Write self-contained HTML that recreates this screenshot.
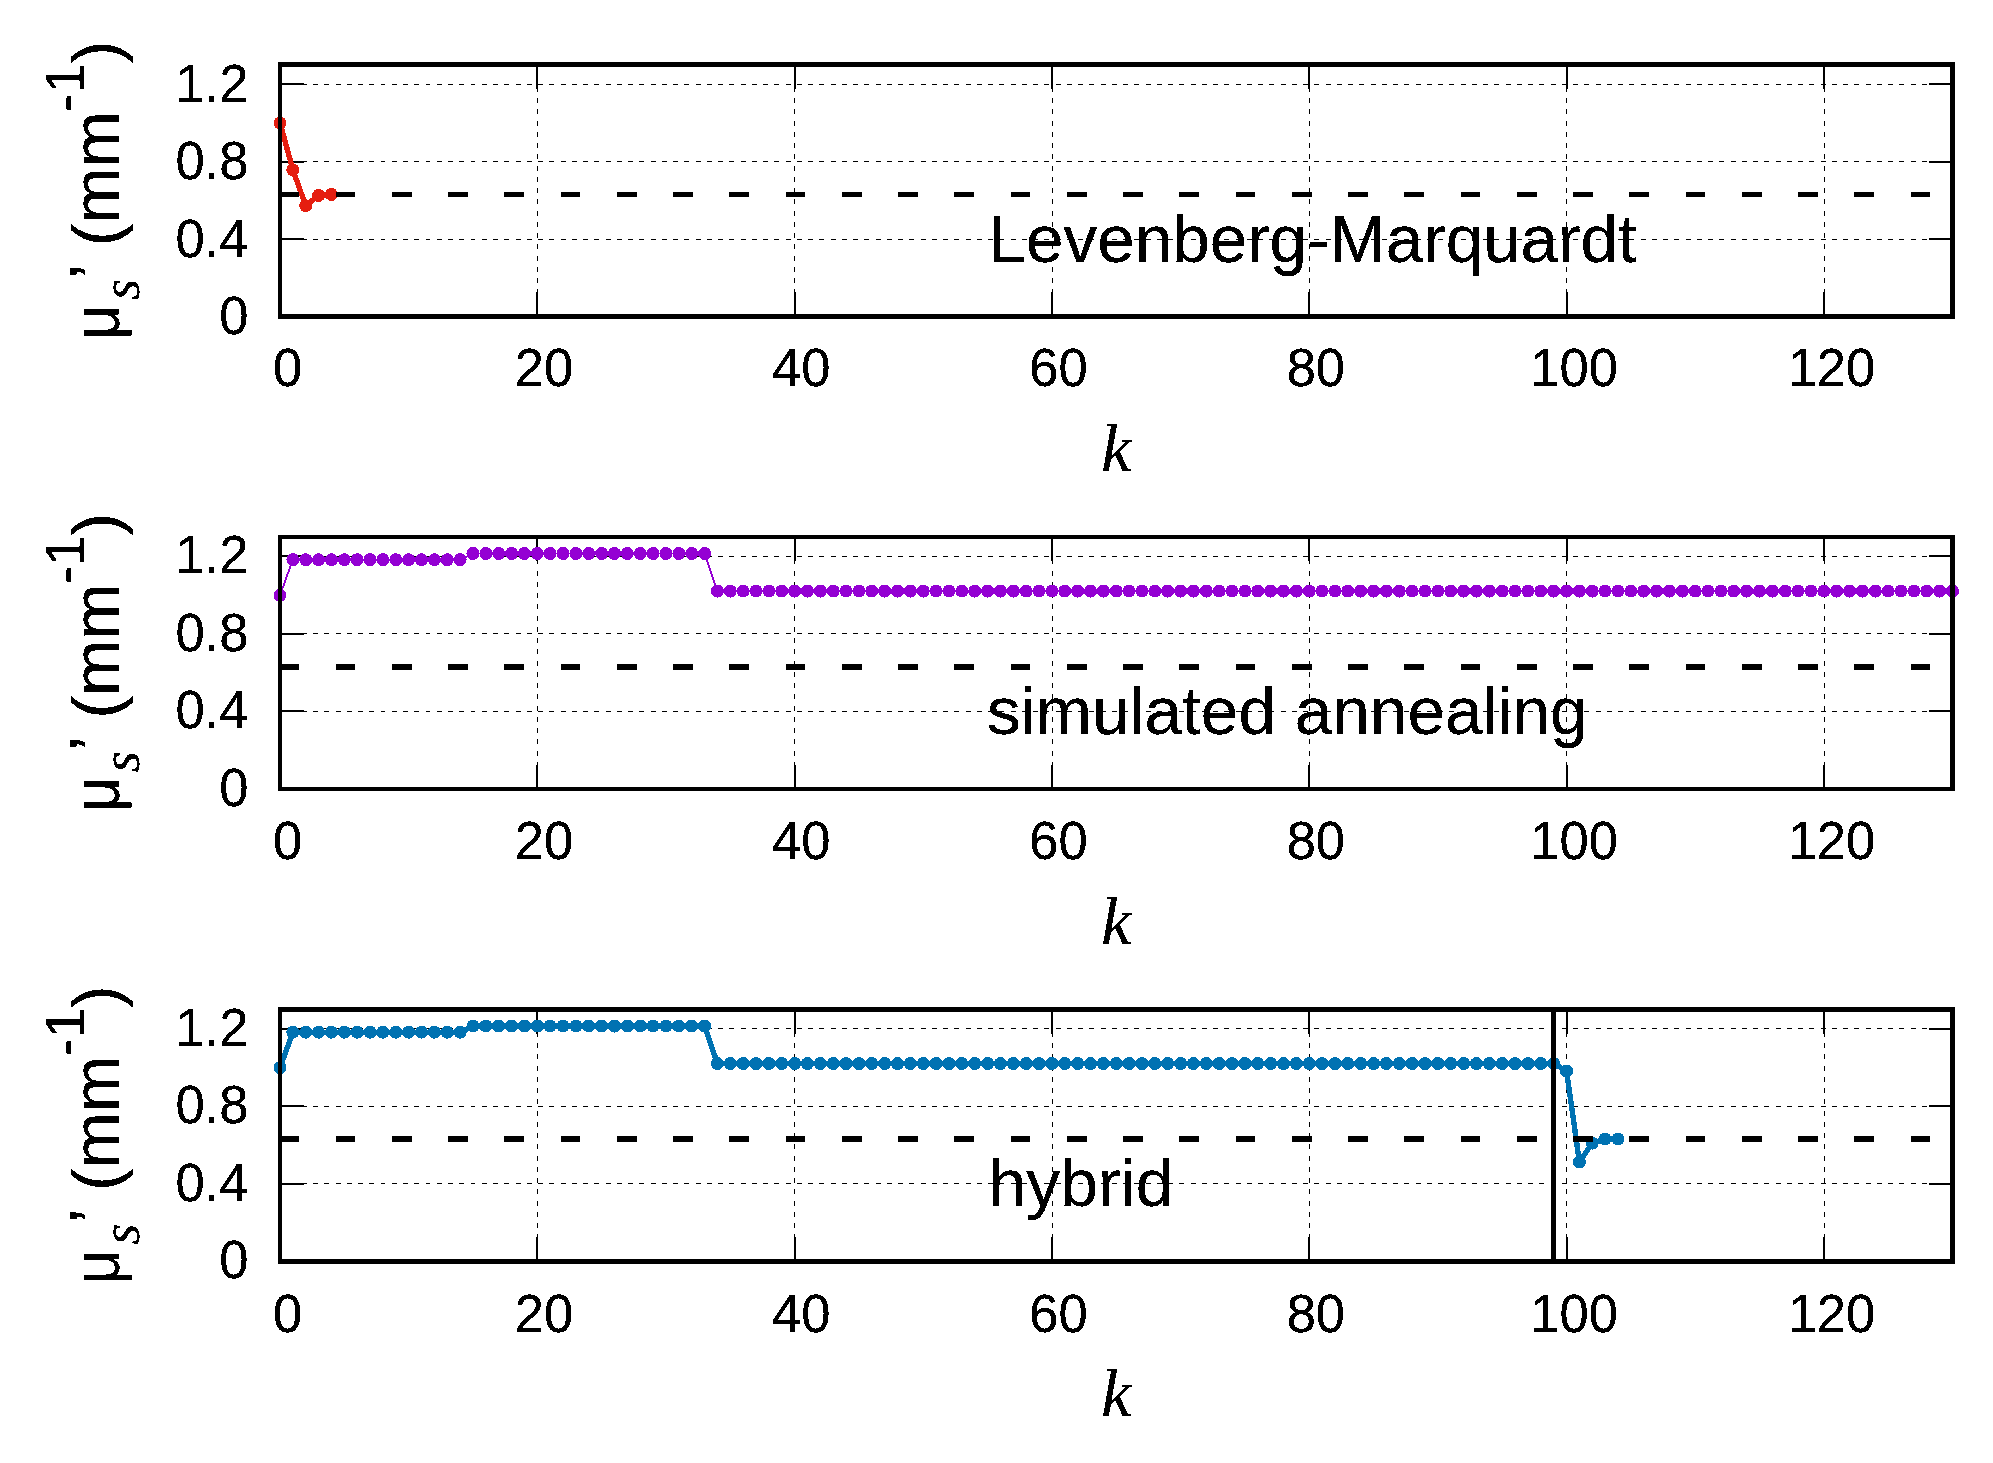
<!DOCTYPE html>
<html lang="en"><head><meta charset="utf-8"><title>Convergence of the reduced scattering coefficient</title>
<style>
html,body{margin:0;padding:0;background:#fff;}
body{width:1993px;height:1463px;overflow:hidden;}
svg{display:block;}
.tk{font-family:'Liberation Sans', Arial, Helvetica, sans-serif;font-size:52.5px;fill:#000;}
.lb{font-family:'Liberation Sans', Arial, Helvetica, sans-serif;font-size:67.5px;fill:#000;}
.sm{font-family:'Liberation Sans', Arial, Helvetica, sans-serif;font-size:54px;fill:#000;}
.it{font-family:'Liberation Serif', 'Times New Roman', Times, serif;font-style:italic;fill:#000;}
</style></head><body>
<svg width="1993" height="1463" viewBox="0 0 1993 1463" shape-rendering="crispEdges">
<defs><filter id="ink" filterUnits="userSpaceOnUse" x="0" y="0" width="1993" height="1463" color-interpolation-filters="sRGB"><feComponentTransfer><feFuncA type="discrete" tableValues="0 0 1 1 1 1"/></feComponentTransfer></filter></defs>
<rect x="0" y="0" width="1993" height="1463" fill="#fff"/>
<g id="panel1">
<g stroke="#000" stroke-width="1" stroke-dasharray="4.95 6.3" fill="none">
<path d="M279.3 239.5H1952.5"/>
<path d="M279.3 161.5H1952.5"/>
<path d="M279.3 84.5H1952.5"/>
<path d="M537.5 316.9V62"/>
<path d="M794.81 316.9V62"/>
<path d="M1052.11 316.9V62"/>
<path d="M1309.42 316.9V62"/>
<path d="M1566.73 316.9V62"/>
<path d="M1824.04 316.9V62"/>
</g>
<g fill="#000">
<rect x="282" y="238" width="22" height="2"/>
<rect x="1929" y="238" width="21" height="2"/>
<rect x="282" y="161" width="22" height="2"/>
<rect x="1929" y="161" width="21" height="2"/>
<rect x="282" y="83" width="22" height="2"/>
<rect x="1929" y="83" width="21" height="2"/>
<rect x="536" y="292" width="2" height="22"/>
<rect x="536" y="67" width="2" height="22"/>
<rect x="794" y="292" width="2" height="22"/>
<rect x="794" y="67" width="2" height="22"/>
<rect x="1051" y="292" width="2" height="22"/>
<rect x="1051" y="67" width="2" height="22"/>
<rect x="1308" y="292" width="2" height="22"/>
<rect x="1308" y="67" width="2" height="22"/>
<rect x="1566" y="292" width="2" height="22"/>
<rect x="1566" y="67" width="2" height="22"/>
<rect x="1823" y="292" width="2" height="22"/>
<rect x="1823" y="67" width="2" height="22"/>
</g>
<polyline fill="none" stroke="#e51e10" stroke-width="5.4" stroke-linejoin="round" points="280,122.94 292.87,169.83 305.73,205.68 318.6,195.41 331.46,194.44"/>
<g fill="#e51e10">
<circle cx="280" cy="122.94" r="6.5"/><circle cx="292.87" cy="169.83" r="6.5"/><circle cx="305.73" cy="205.68" r="6.5"/><circle cx="318.6" cy="195.41" r="6.5"/><circle cx="331.46" cy="194.44" r="6.5"/>
</g>
<path d="M279.3 194.5H1952.5" stroke="#000" stroke-width="5" stroke-dasharray="19.7 36.55" fill="none"/>
<g fill="#000">
<rect x="278" y="62" width="1677" height="5"/>
<rect x="278" y="314" width="1677" height="5"/>
<rect x="278" y="62" width="4" height="257"/>
<rect x="1950" y="62" width="5" height="257"/>
</g>
<g filter="url(#ink)">
<text class="tk" transform="translate(248.4 334) scale(1 1.02)" text-anchor="end">0</text>
<text class="tk" transform="translate(248.4 256.5) scale(1 1.02)" text-anchor="end">0.4</text>
<text class="tk" transform="translate(248.4 179) scale(1 1.02)" text-anchor="end">0.8</text>
<text class="tk" transform="translate(248.4 101.5) scale(1 1.02)" text-anchor="end">1.2</text>
<text class="tk" transform="translate(287.6 385.9) scale(1 1.02)" text-anchor="middle">0</text>
<text class="tk" transform="translate(543.91 385.9) scale(1 1.02)" text-anchor="middle">20</text>
<text class="tk" transform="translate(801.22 385.9) scale(1 1.02)" text-anchor="middle">40</text>
<text class="tk" transform="translate(1058.52 385.9) scale(1 1.02)" text-anchor="middle">60</text>
<text class="tk" transform="translate(1315.83 385.9) scale(1 1.02)" text-anchor="middle">80</text>
<text class="tk" transform="translate(1574.14 385.9) scale(1 1.02)" text-anchor="middle">100</text>
<text class="tk" transform="translate(1831.45 385.9) scale(1 1.02)" text-anchor="middle">120</text>
<text class="it" font-size="67.5" x="1116.25" y="470.5" text-anchor="middle">k</text>
<text class="lb" x="988.5" y="261.5" textLength="648.3" lengthAdjust="spacingAndGlyphs">Levenberg-Marquardt</text>
<g transform="translate(119 190.3) rotate(-90)">
<text class="lb" transform="translate(-149.15 0) scale(0.89 1)">μ</text>
<text class="it" font-size="54" x="-109.7" y="20.3">s</text>
<text class="lb" x="-88.5" y="-3.2">’</text>
<text class="lb" x="-55.9" y="0">(mm</text>
<text class="sm" transform="translate(78.3 -35) scale(1 1.045)">-</text>
<text class="sm" transform="translate(97.1 -35) scale(1 1.045)">1</text>
<text class="lb" x="127.1" y="0">)</text>
</g>
</g>
</g>
<g id="panel2">
<g stroke="#000" stroke-width="1" stroke-dasharray="4.95 6.3" fill="none">
<path d="M279.3 711.5H1952.5"/>
<path d="M279.3 633.5H1952.5"/>
<path d="M279.3 556.5H1952.5"/>
<path d="M537.5 789.4V535"/>
<path d="M794.81 789.4V535"/>
<path d="M1052.11 789.4V535"/>
<path d="M1309.42 789.4V535"/>
<path d="M1566.73 789.4V535"/>
<path d="M1824.04 789.4V535"/>
</g>
<g fill="#000">
<rect x="282" y="710" width="22" height="2"/>
<rect x="1929" y="710" width="21" height="2"/>
<rect x="282" y="633" width="22" height="2"/>
<rect x="1929" y="633" width="21" height="2"/>
<rect x="282" y="555" width="22" height="2"/>
<rect x="1929" y="555" width="21" height="2"/>
<rect x="536" y="765" width="2" height="22"/>
<rect x="536" y="539" width="2" height="22"/>
<rect x="794" y="765" width="2" height="22"/>
<rect x="794" y="539" width="2" height="22"/>
<rect x="1051" y="765" width="2" height="22"/>
<rect x="1051" y="539" width="2" height="22"/>
<rect x="1308" y="765" width="2" height="22"/>
<rect x="1308" y="539" width="2" height="22"/>
<rect x="1566" y="765" width="2" height="22"/>
<rect x="1566" y="539" width="2" height="22"/>
<rect x="1823" y="765" width="2" height="22"/>
<rect x="1823" y="539" width="2" height="22"/>
</g>
<polyline fill="none" stroke="#9400d3" stroke-width="1.9" stroke-linejoin="round" points="280,595.25 292.87,559.7 305.73,559.7 318.6,559.7 331.46,559.7 344.33,559.7 357.19,559.7 370.06,559.7 382.92,559.7 395.79,559.7 408.65,559.7 421.52,559.7 434.38,559.7 447.25,559.7 460.12,559.7 472.98,553.5 485.85,553.5 498.71,553.5 511.58,553.5 524.44,553.5 537.31,553.5 550.17,553.5 563.04,553.5 575.9,553.5 588.77,553.5 601.63,553.5 614.5,553.5 627.37,553.5 640.23,553.5 653.1,553.5 665.96,553.5 678.83,553.5 691.69,553.5 704.56,553.5 717.42,591.05 730.29,591.05 743.15,591.05 756.02,591.05 768.88,591.05 781.75,591.05 794.62,591.05 807.48,591.05 820.35,591.05 833.21,591.05 846.08,591.05 858.94,591.05 871.81,591.05 884.67,591.05 897.54,591.05 910.4,591.05 923.27,591.05 936.13,591.05 949,591.05 961.87,591.05 974.73,591.05 987.6,591.05 1000.46,591.05 1013.33,591.05 1026.19,591.05 1039.06,591.05 1051.92,591.05 1064.79,591.05 1077.65,591.05 1090.52,591.05 1103.38,591.05 1116.25,591.05 1129.12,591.05 1141.98,591.05 1154.85,591.05 1167.71,591.05 1180.58,591.05 1193.44,591.05 1206.31,591.05 1219.17,591.05 1232.04,591.05 1244.9,591.05 1257.77,591.05 1270.63,591.05 1283.5,591.05 1296.37,591.05 1309.23,591.05 1322.1,591.05 1334.96,591.05 1347.83,591.05 1360.69,591.05 1373.56,591.05 1386.42,591.05 1399.29,591.05 1412.15,591.05 1425.02,591.05 1437.88,591.05 1450.75,591.05 1463.62,591.05 1476.48,591.05 1489.35,591.05 1502.21,591.05 1515.08,591.05 1527.94,591.05 1540.81,591.05 1553.67,591.05 1566.54,591.05 1579.4,591.05 1592.27,591.05 1605.13,591.05 1618,591.05 1630.87,591.05 1643.73,591.05 1656.6,591.05 1669.46,591.05 1682.33,591.05 1695.19,591.05 1708.06,591.05 1720.92,591.05 1733.79,591.05 1746.65,591.05 1759.52,591.05 1772.38,591.05 1785.25,591.05 1798.12,591.05 1810.98,591.05 1823.85,591.05 1836.71,591.05 1849.58,591.05 1862.44,591.05 1875.31,591.05 1888.17,591.05 1901.04,591.05 1913.9,591.05 1926.77,591.05 1939.63,591.05 1952.5,591.05"/>
<g fill="#9400d3">
<circle cx="280" cy="595.25" r="6.5"/><circle cx="292.87" cy="559.7" r="6.5"/><circle cx="305.73" cy="559.7" r="6.5"/><circle cx="318.6" cy="559.7" r="6.5"/><circle cx="331.46" cy="559.7" r="6.5"/><circle cx="344.33" cy="559.7" r="6.5"/><circle cx="357.19" cy="559.7" r="6.5"/><circle cx="370.06" cy="559.7" r="6.5"/><circle cx="382.92" cy="559.7" r="6.5"/><circle cx="395.79" cy="559.7" r="6.5"/><circle cx="408.65" cy="559.7" r="6.5"/><circle cx="421.52" cy="559.7" r="6.5"/><circle cx="434.38" cy="559.7" r="6.5"/><circle cx="447.25" cy="559.7" r="6.5"/><circle cx="460.12" cy="559.7" r="6.5"/><circle cx="472.98" cy="553.5" r="6.5"/><circle cx="485.85" cy="553.5" r="6.5"/><circle cx="498.71" cy="553.5" r="6.5"/><circle cx="511.58" cy="553.5" r="6.5"/><circle cx="524.44" cy="553.5" r="6.5"/><circle cx="537.31" cy="553.5" r="6.5"/><circle cx="550.17" cy="553.5" r="6.5"/><circle cx="563.04" cy="553.5" r="6.5"/><circle cx="575.9" cy="553.5" r="6.5"/><circle cx="588.77" cy="553.5" r="6.5"/><circle cx="601.63" cy="553.5" r="6.5"/><circle cx="614.5" cy="553.5" r="6.5"/><circle cx="627.37" cy="553.5" r="6.5"/><circle cx="640.23" cy="553.5" r="6.5"/><circle cx="653.1" cy="553.5" r="6.5"/><circle cx="665.96" cy="553.5" r="6.5"/><circle cx="678.83" cy="553.5" r="6.5"/><circle cx="691.69" cy="553.5" r="6.5"/><circle cx="704.56" cy="553.5" r="6.5"/><circle cx="717.42" cy="591.05" r="6.5"/><circle cx="730.29" cy="591.05" r="6.5"/><circle cx="743.15" cy="591.05" r="6.5"/><circle cx="756.02" cy="591.05" r="6.5"/><circle cx="768.88" cy="591.05" r="6.5"/><circle cx="781.75" cy="591.05" r="6.5"/><circle cx="794.62" cy="591.05" r="6.5"/><circle cx="807.48" cy="591.05" r="6.5"/><circle cx="820.35" cy="591.05" r="6.5"/><circle cx="833.21" cy="591.05" r="6.5"/><circle cx="846.08" cy="591.05" r="6.5"/><circle cx="858.94" cy="591.05" r="6.5"/><circle cx="871.81" cy="591.05" r="6.5"/><circle cx="884.67" cy="591.05" r="6.5"/><circle cx="897.54" cy="591.05" r="6.5"/><circle cx="910.4" cy="591.05" r="6.5"/><circle cx="923.27" cy="591.05" r="6.5"/><circle cx="936.13" cy="591.05" r="6.5"/><circle cx="949" cy="591.05" r="6.5"/><circle cx="961.87" cy="591.05" r="6.5"/><circle cx="974.73" cy="591.05" r="6.5"/><circle cx="987.6" cy="591.05" r="6.5"/><circle cx="1000.46" cy="591.05" r="6.5"/><circle cx="1013.33" cy="591.05" r="6.5"/><circle cx="1026.19" cy="591.05" r="6.5"/><circle cx="1039.06" cy="591.05" r="6.5"/><circle cx="1051.92" cy="591.05" r="6.5"/><circle cx="1064.79" cy="591.05" r="6.5"/><circle cx="1077.65" cy="591.05" r="6.5"/><circle cx="1090.52" cy="591.05" r="6.5"/><circle cx="1103.38" cy="591.05" r="6.5"/><circle cx="1116.25" cy="591.05" r="6.5"/><circle cx="1129.12" cy="591.05" r="6.5"/><circle cx="1141.98" cy="591.05" r="6.5"/><circle cx="1154.85" cy="591.05" r="6.5"/><circle cx="1167.71" cy="591.05" r="6.5"/><circle cx="1180.58" cy="591.05" r="6.5"/><circle cx="1193.44" cy="591.05" r="6.5"/><circle cx="1206.31" cy="591.05" r="6.5"/><circle cx="1219.17" cy="591.05" r="6.5"/><circle cx="1232.04" cy="591.05" r="6.5"/><circle cx="1244.9" cy="591.05" r="6.5"/><circle cx="1257.77" cy="591.05" r="6.5"/><circle cx="1270.63" cy="591.05" r="6.5"/><circle cx="1283.5" cy="591.05" r="6.5"/><circle cx="1296.37" cy="591.05" r="6.5"/><circle cx="1309.23" cy="591.05" r="6.5"/><circle cx="1322.1" cy="591.05" r="6.5"/><circle cx="1334.96" cy="591.05" r="6.5"/><circle cx="1347.83" cy="591.05" r="6.5"/><circle cx="1360.69" cy="591.05" r="6.5"/><circle cx="1373.56" cy="591.05" r="6.5"/><circle cx="1386.42" cy="591.05" r="6.5"/><circle cx="1399.29" cy="591.05" r="6.5"/><circle cx="1412.15" cy="591.05" r="6.5"/><circle cx="1425.02" cy="591.05" r="6.5"/><circle cx="1437.88" cy="591.05" r="6.5"/><circle cx="1450.75" cy="591.05" r="6.5"/><circle cx="1463.62" cy="591.05" r="6.5"/><circle cx="1476.48" cy="591.05" r="6.5"/><circle cx="1489.35" cy="591.05" r="6.5"/><circle cx="1502.21" cy="591.05" r="6.5"/><circle cx="1515.08" cy="591.05" r="6.5"/><circle cx="1527.94" cy="591.05" r="6.5"/><circle cx="1540.81" cy="591.05" r="6.5"/><circle cx="1553.67" cy="591.05" r="6.5"/><circle cx="1566.54" cy="591.05" r="6.5"/><circle cx="1579.4" cy="591.05" r="6.5"/><circle cx="1592.27" cy="591.05" r="6.5"/><circle cx="1605.13" cy="591.05" r="6.5"/><circle cx="1618" cy="591.05" r="6.5"/><circle cx="1630.87" cy="591.05" r="6.5"/><circle cx="1643.73" cy="591.05" r="6.5"/><circle cx="1656.6" cy="591.05" r="6.5"/><circle cx="1669.46" cy="591.05" r="6.5"/><circle cx="1682.33" cy="591.05" r="6.5"/><circle cx="1695.19" cy="591.05" r="6.5"/><circle cx="1708.06" cy="591.05" r="6.5"/><circle cx="1720.92" cy="591.05" r="6.5"/><circle cx="1733.79" cy="591.05" r="6.5"/><circle cx="1746.65" cy="591.05" r="6.5"/><circle cx="1759.52" cy="591.05" r="6.5"/><circle cx="1772.38" cy="591.05" r="6.5"/><circle cx="1785.25" cy="591.05" r="6.5"/><circle cx="1798.12" cy="591.05" r="6.5"/><circle cx="1810.98" cy="591.05" r="6.5"/><circle cx="1823.85" cy="591.05" r="6.5"/><circle cx="1836.71" cy="591.05" r="6.5"/><circle cx="1849.58" cy="591.05" r="6.5"/><circle cx="1862.44" cy="591.05" r="6.5"/><circle cx="1875.31" cy="591.05" r="6.5"/><circle cx="1888.17" cy="591.05" r="6.5"/><circle cx="1901.04" cy="591.05" r="6.5"/><circle cx="1913.9" cy="591.05" r="6.5"/><circle cx="1926.77" cy="591.05" r="6.5"/><circle cx="1939.63" cy="591.05" r="6.5"/><circle cx="1952.5" cy="591.05" r="6.5"/>
</g>
<path d="M279.3 667H1952.5" stroke="#000" stroke-width="6" stroke-dasharray="19.7 36.55" fill="none"/>
<g fill="#000">
<rect x="278" y="535" width="1677" height="4"/>
<rect x="278" y="787" width="1677" height="4"/>
<rect x="278" y="535" width="4" height="256"/>
<rect x="1950" y="535" width="5" height="256"/>
</g>
<g filter="url(#ink)">
<text class="tk" transform="translate(248.4 805.8) scale(1 1.02)" text-anchor="end">0</text>
<text class="tk" transform="translate(248.4 728.3) scale(1 1.02)" text-anchor="end">0.4</text>
<text class="tk" transform="translate(248.4 650.8) scale(1 1.02)" text-anchor="end">0.8</text>
<text class="tk" transform="translate(248.4 573.3) scale(1 1.02)" text-anchor="end">1.2</text>
<text class="tk" transform="translate(287.6 858.9) scale(1 1.02)" text-anchor="middle">0</text>
<text class="tk" transform="translate(543.91 858.9) scale(1 1.02)" text-anchor="middle">20</text>
<text class="tk" transform="translate(801.22 858.9) scale(1 1.02)" text-anchor="middle">40</text>
<text class="tk" transform="translate(1058.52 858.9) scale(1 1.02)" text-anchor="middle">60</text>
<text class="tk" transform="translate(1315.83 858.9) scale(1 1.02)" text-anchor="middle">80</text>
<text class="tk" transform="translate(1574.14 858.9) scale(1 1.02)" text-anchor="middle">100</text>
<text class="tk" transform="translate(1831.45 858.9) scale(1 1.02)" text-anchor="middle">120</text>
<text class="it" font-size="67.5" x="1116.25" y="943.5" text-anchor="middle">k</text>
<text class="lb" x="987" y="733.8" textLength="600.6" lengthAdjust="spacingAndGlyphs">simulated annealing</text>
<g transform="translate(119 662.5) rotate(-90)">
<text class="lb" transform="translate(-149.15 0) scale(0.89 1)">μ</text>
<text class="it" font-size="54" x="-109.7" y="20.3">s</text>
<text class="lb" x="-88.5" y="-3.2">’</text>
<text class="lb" x="-55.9" y="0">(mm</text>
<text class="sm" transform="translate(78.3 -35) scale(1 1.045)">-</text>
<text class="sm" transform="translate(97.1 -35) scale(1 1.045)">1</text>
<text class="lb" x="127.1" y="0">)</text>
</g>
</g>
</g>
<g id="panel3">
<g stroke="#000" stroke-width="1" stroke-dasharray="4.95 6.3" fill="none">
<path d="M279.3 1183.5H1952.5"/>
<path d="M279.3 1106.5H1952.5"/>
<path d="M279.3 1028.5H1952.5"/>
<path d="M537.5 1261.9V1007"/>
<path d="M794.81 1261.9V1007"/>
<path d="M1052.11 1261.9V1007"/>
<path d="M1309.42 1261.9V1007"/>
<path d="M1566.73 1261.9V1007"/>
<path d="M1824.04 1261.9V1007"/>
</g>
<g fill="#000">
<rect x="282" y="1183" width="22" height="2"/>
<rect x="1929" y="1183" width="21" height="2"/>
<rect x="282" y="1105" width="22" height="2"/>
<rect x="1929" y="1105" width="21" height="2"/>
<rect x="282" y="1028" width="22" height="2"/>
<rect x="1929" y="1028" width="21" height="2"/>
<rect x="536" y="1237" width="2" height="22"/>
<rect x="536" y="1012" width="2" height="22"/>
<rect x="794" y="1237" width="2" height="22"/>
<rect x="794" y="1012" width="2" height="22"/>
<rect x="1051" y="1237" width="2" height="22"/>
<rect x="1051" y="1012" width="2" height="22"/>
<rect x="1308" y="1237" width="2" height="22"/>
<rect x="1308" y="1012" width="2" height="22"/>
<rect x="1566" y="1237" width="2" height="22"/>
<rect x="1566" y="1012" width="2" height="22"/>
<rect x="1823" y="1237" width="2" height="22"/>
<rect x="1823" y="1012" width="2" height="22"/>
</g>
<polyline fill="none" stroke="#0072b2" stroke-width="5.4" stroke-linejoin="round" points="280,1067.75 292.87,1032.2 305.73,1032.2 318.6,1032.2 331.46,1032.2 344.33,1032.2 357.19,1032.2 370.06,1032.2 382.92,1032.2 395.79,1032.2 408.65,1032.2 421.52,1032.2 434.38,1032.2 447.25,1032.2 460.12,1032.2 472.98,1026 485.85,1026 498.71,1026 511.58,1026 524.44,1026 537.31,1026 550.17,1026 563.04,1026 575.9,1026 588.77,1026 601.63,1026 614.5,1026 627.37,1026 640.23,1026 653.1,1026 665.96,1026 678.83,1026 691.69,1026 704.56,1026 717.42,1063.55 730.29,1063.55 743.15,1063.55 756.02,1063.55 768.88,1063.55 781.75,1063.55 794.62,1063.55 807.48,1063.55 820.35,1063.55 833.21,1063.55 846.08,1063.55 858.94,1063.55 871.81,1063.55 884.67,1063.55 897.54,1063.55 910.4,1063.55 923.27,1063.55 936.13,1063.55 949,1063.55 961.87,1063.55 974.73,1063.55 987.6,1063.55 1000.46,1063.55 1013.33,1063.55 1026.19,1063.55 1039.06,1063.55 1051.92,1063.55 1064.79,1063.55 1077.65,1063.55 1090.52,1063.55 1103.38,1063.55 1116.25,1063.55 1129.12,1063.55 1141.98,1063.55 1154.85,1063.55 1167.71,1063.55 1180.58,1063.55 1193.44,1063.55 1206.31,1063.55 1219.17,1063.55 1232.04,1063.55 1244.9,1063.55 1257.77,1063.55 1270.63,1063.55 1283.5,1063.55 1296.37,1063.55 1309.23,1063.55 1322.1,1063.55 1334.96,1063.55 1347.83,1063.55 1360.69,1063.55 1373.56,1063.55 1386.42,1063.55 1399.29,1063.55 1412.15,1063.55 1425.02,1063.55 1437.88,1063.55 1450.75,1063.55 1463.62,1063.55 1476.48,1063.55 1489.35,1063.55 1502.21,1063.55 1515.08,1063.55 1527.94,1063.55 1540.81,1063.55 1553.67,1063.55 1566.54,1071.04 1579.4,1161.91 1592.27,1143.12 1605.13,1139.05 1618,1139.05"/>
<g fill="#0072b2">
<circle cx="280" cy="1067.75" r="6.5"/><circle cx="292.87" cy="1032.2" r="6.5"/><circle cx="305.73" cy="1032.2" r="6.5"/><circle cx="318.6" cy="1032.2" r="6.5"/><circle cx="331.46" cy="1032.2" r="6.5"/><circle cx="344.33" cy="1032.2" r="6.5"/><circle cx="357.19" cy="1032.2" r="6.5"/><circle cx="370.06" cy="1032.2" r="6.5"/><circle cx="382.92" cy="1032.2" r="6.5"/><circle cx="395.79" cy="1032.2" r="6.5"/><circle cx="408.65" cy="1032.2" r="6.5"/><circle cx="421.52" cy="1032.2" r="6.5"/><circle cx="434.38" cy="1032.2" r="6.5"/><circle cx="447.25" cy="1032.2" r="6.5"/><circle cx="460.12" cy="1032.2" r="6.5"/><circle cx="472.98" cy="1026" r="6.5"/><circle cx="485.85" cy="1026" r="6.5"/><circle cx="498.71" cy="1026" r="6.5"/><circle cx="511.58" cy="1026" r="6.5"/><circle cx="524.44" cy="1026" r="6.5"/><circle cx="537.31" cy="1026" r="6.5"/><circle cx="550.17" cy="1026" r="6.5"/><circle cx="563.04" cy="1026" r="6.5"/><circle cx="575.9" cy="1026" r="6.5"/><circle cx="588.77" cy="1026" r="6.5"/><circle cx="601.63" cy="1026" r="6.5"/><circle cx="614.5" cy="1026" r="6.5"/><circle cx="627.37" cy="1026" r="6.5"/><circle cx="640.23" cy="1026" r="6.5"/><circle cx="653.1" cy="1026" r="6.5"/><circle cx="665.96" cy="1026" r="6.5"/><circle cx="678.83" cy="1026" r="6.5"/><circle cx="691.69" cy="1026" r="6.5"/><circle cx="704.56" cy="1026" r="6.5"/><circle cx="717.42" cy="1063.55" r="6.5"/><circle cx="730.29" cy="1063.55" r="6.5"/><circle cx="743.15" cy="1063.55" r="6.5"/><circle cx="756.02" cy="1063.55" r="6.5"/><circle cx="768.88" cy="1063.55" r="6.5"/><circle cx="781.75" cy="1063.55" r="6.5"/><circle cx="794.62" cy="1063.55" r="6.5"/><circle cx="807.48" cy="1063.55" r="6.5"/><circle cx="820.35" cy="1063.55" r="6.5"/><circle cx="833.21" cy="1063.55" r="6.5"/><circle cx="846.08" cy="1063.55" r="6.5"/><circle cx="858.94" cy="1063.55" r="6.5"/><circle cx="871.81" cy="1063.55" r="6.5"/><circle cx="884.67" cy="1063.55" r="6.5"/><circle cx="897.54" cy="1063.55" r="6.5"/><circle cx="910.4" cy="1063.55" r="6.5"/><circle cx="923.27" cy="1063.55" r="6.5"/><circle cx="936.13" cy="1063.55" r="6.5"/><circle cx="949" cy="1063.55" r="6.5"/><circle cx="961.87" cy="1063.55" r="6.5"/><circle cx="974.73" cy="1063.55" r="6.5"/><circle cx="987.6" cy="1063.55" r="6.5"/><circle cx="1000.46" cy="1063.55" r="6.5"/><circle cx="1013.33" cy="1063.55" r="6.5"/><circle cx="1026.19" cy="1063.55" r="6.5"/><circle cx="1039.06" cy="1063.55" r="6.5"/><circle cx="1051.92" cy="1063.55" r="6.5"/><circle cx="1064.79" cy="1063.55" r="6.5"/><circle cx="1077.65" cy="1063.55" r="6.5"/><circle cx="1090.52" cy="1063.55" r="6.5"/><circle cx="1103.38" cy="1063.55" r="6.5"/><circle cx="1116.25" cy="1063.55" r="6.5"/><circle cx="1129.12" cy="1063.55" r="6.5"/><circle cx="1141.98" cy="1063.55" r="6.5"/><circle cx="1154.85" cy="1063.55" r="6.5"/><circle cx="1167.71" cy="1063.55" r="6.5"/><circle cx="1180.58" cy="1063.55" r="6.5"/><circle cx="1193.44" cy="1063.55" r="6.5"/><circle cx="1206.31" cy="1063.55" r="6.5"/><circle cx="1219.17" cy="1063.55" r="6.5"/><circle cx="1232.04" cy="1063.55" r="6.5"/><circle cx="1244.9" cy="1063.55" r="6.5"/><circle cx="1257.77" cy="1063.55" r="6.5"/><circle cx="1270.63" cy="1063.55" r="6.5"/><circle cx="1283.5" cy="1063.55" r="6.5"/><circle cx="1296.37" cy="1063.55" r="6.5"/><circle cx="1309.23" cy="1063.55" r="6.5"/><circle cx="1322.1" cy="1063.55" r="6.5"/><circle cx="1334.96" cy="1063.55" r="6.5"/><circle cx="1347.83" cy="1063.55" r="6.5"/><circle cx="1360.69" cy="1063.55" r="6.5"/><circle cx="1373.56" cy="1063.55" r="6.5"/><circle cx="1386.42" cy="1063.55" r="6.5"/><circle cx="1399.29" cy="1063.55" r="6.5"/><circle cx="1412.15" cy="1063.55" r="6.5"/><circle cx="1425.02" cy="1063.55" r="6.5"/><circle cx="1437.88" cy="1063.55" r="6.5"/><circle cx="1450.75" cy="1063.55" r="6.5"/><circle cx="1463.62" cy="1063.55" r="6.5"/><circle cx="1476.48" cy="1063.55" r="6.5"/><circle cx="1489.35" cy="1063.55" r="6.5"/><circle cx="1502.21" cy="1063.55" r="6.5"/><circle cx="1515.08" cy="1063.55" r="6.5"/><circle cx="1527.94" cy="1063.55" r="6.5"/><circle cx="1540.81" cy="1063.55" r="6.5"/><circle cx="1553.67" cy="1063.55" r="6.5"/><circle cx="1566.54" cy="1071.04" r="6.5"/><circle cx="1579.4" cy="1161.91" r="6.5"/><circle cx="1592.27" cy="1143.12" r="6.5"/><circle cx="1605.13" cy="1139.05" r="6.5"/><circle cx="1618" cy="1139.05" r="6.5"/>
</g>
<path d="M279.3 1139H1952.5" stroke="#000" stroke-width="6" stroke-dasharray="19.7 36.55" fill="none"/>
<rect x="1551" y="1007" width="5" height="257" fill="#000"/>
<g fill="#000">
<rect x="278" y="1007" width="1677" height="5"/>
<rect x="278" y="1259" width="1677" height="5"/>
<rect x="278" y="1007" width="4" height="257"/>
<rect x="1950" y="1007" width="5" height="257"/>
</g>
<g filter="url(#ink)">
<text class="tk" transform="translate(248.4 1278.3) scale(1 1.02)" text-anchor="end">0</text>
<text class="tk" transform="translate(248.4 1200.8) scale(1 1.02)" text-anchor="end">0.4</text>
<text class="tk" transform="translate(248.4 1123.3) scale(1 1.02)" text-anchor="end">0.8</text>
<text class="tk" transform="translate(248.4 1045.8) scale(1 1.02)" text-anchor="end">1.2</text>
<text class="tk" transform="translate(287.6 1331.9) scale(1 1.02)" text-anchor="middle">0</text>
<text class="tk" transform="translate(543.91 1331.9) scale(1 1.02)" text-anchor="middle">20</text>
<text class="tk" transform="translate(801.22 1331.9) scale(1 1.02)" text-anchor="middle">40</text>
<text class="tk" transform="translate(1058.52 1331.9) scale(1 1.02)" text-anchor="middle">60</text>
<text class="tk" transform="translate(1315.83 1331.9) scale(1 1.02)" text-anchor="middle">80</text>
<text class="tk" transform="translate(1574.14 1331.9) scale(1 1.02)" text-anchor="middle">100</text>
<text class="tk" transform="translate(1831.45 1331.9) scale(1 1.02)" text-anchor="middle">120</text>
<text class="it" font-size="67.5" x="1116.25" y="1415.5" text-anchor="middle">k</text>
<text class="lb" x="988.5" y="1205.7" textLength="185" lengthAdjust="spacingAndGlyphs">hybrid</text>
<g transform="translate(119 1134.9) rotate(-90)">
<text class="lb" transform="translate(-149.15 0) scale(0.89 1)">μ</text>
<text class="it" font-size="54" x="-109.7" y="20.3">s</text>
<text class="lb" x="-88.5" y="-3.2">’</text>
<text class="lb" x="-55.9" y="0">(mm</text>
<text class="sm" transform="translate(78.3 -35) scale(1 1.045)">-</text>
<text class="sm" transform="translate(97.1 -35) scale(1 1.045)">1</text>
<text class="lb" x="127.1" y="0">)</text>
</g>
</g>
</g>
</svg>
</body></html>
